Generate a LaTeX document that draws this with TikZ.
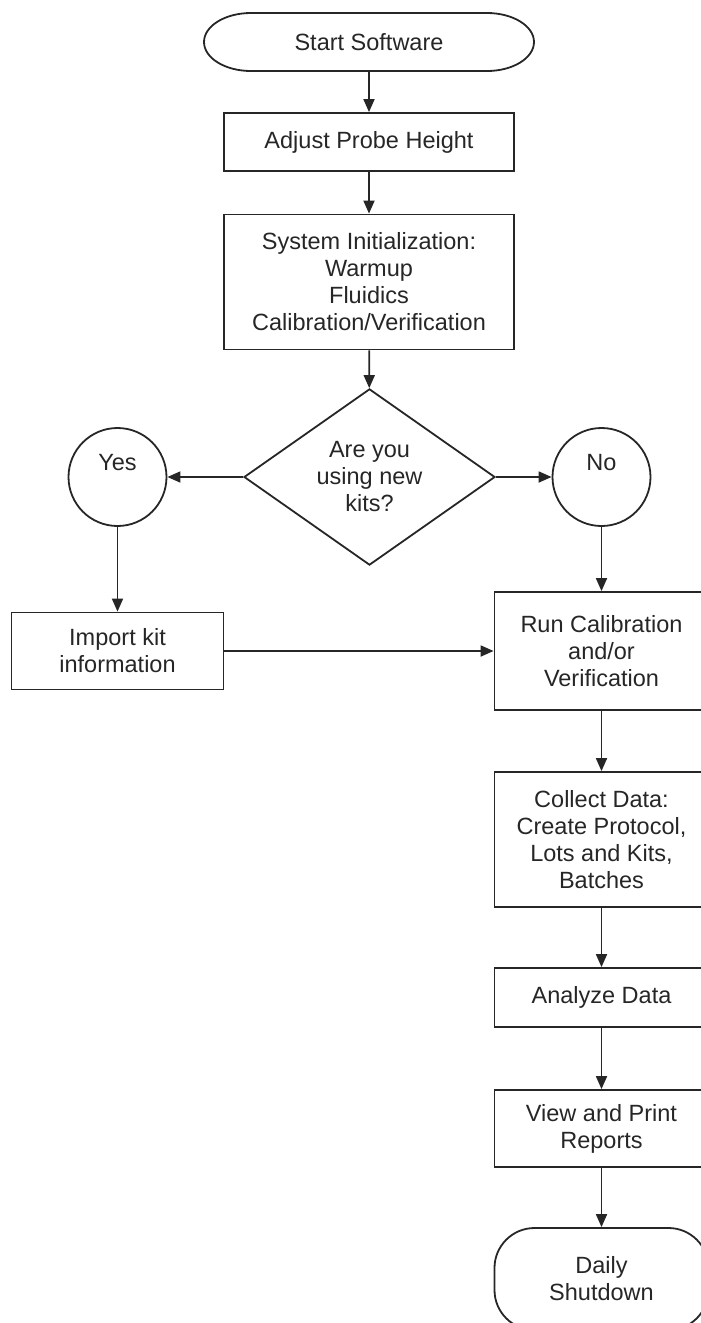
\documentclass[tikz,border=0pt]{standalone}
\usepackage{fontspec}
\setmainfont{Liberation Sans}
\usetikzlibrary{arrows.meta,shapes.geometric,calc}

\tikzset{
  box/.style={draw, rectangle, align=center, inner sep=2pt},
  decision/.style={draw, diamond, align=center, inner sep=0pt,
    minimum width=125.5pt, minimum height=83.5pt},
  answer/.style={draw, circle, minimum size=49pt, inner sep=0pt},
}

\begin{document}
\begin{tikzpicture}[x=0.5pt, y=-0.5pt, line width=0.9pt, black!85,
  >={Triangle[length=6.5pt,width=5.5pt]},
  font=\fontsize{11.75}{13.5}\selectfont]
  \useasboundingbox (0,0) rectangle (701,1323);

  % Start (pill with elliptic ends)
  \node[minimum width=165pt, minimum height=29pt, outer sep=0pt] (start) at (369,42) {Start Software};
  \draw ([xshift=23.5pt]start.north west) -- ([xshift=-23.5pt]start.north east)
    arc[start angle=90, end angle=-90, x radius=23.5pt, y radius=14.5pt]
    -- ([xshift=23.5pt]start.south west)
    arc[start angle=270, end angle=90, x radius=23.5pt, y radius=14.5pt] -- cycle;

  % Main column
  \node[box, minimum width=145pt, minimum height=29pt] (probe) at (369,142) {Adjust Probe Height};
  \node[box, minimum width=145pt, minimum height=67.5pt] (init) at (369,282)
    {System Initialization:\\Warmup\\Fluidics\\Calibration/Verification};
  \node[decision] (kits) at (369.5,477) {Are you\\using new\\kits?};

  % Answers
  \node[answer] (yes) at (117.5,477) {\raisebox{7pt}[\height][\depth]{Yes}};
  \node[answer] (no) at (601.5,477) {\raisebox{7pt}[\height][\depth]{No}};

  % Left branch
  \node[box, minimum width=106pt, minimum height=38.5pt] (import) at (117.5,651) {Import kit\\information};

  % Right column
  \node[box, minimum width=107pt, minimum height=59pt] (runcal) at (601.5,651)
    {Run Calibration\\and/or\\Verification};
  \node[box, minimum width=107pt, minimum height=67.5pt] (collect) at (601.5,839.5)
    {Collect Data:\\Create Protocol,\\Lots and Kits,\\Batches};
  \node[box, minimum width=107pt, minimum height=29.5pt] (analyze) at (601.5,997.5) {Analyze Data};
  \node[box, minimum width=107pt, minimum height=38.5pt] (report) at (601.5,1128.5) {View and Print\\Reports};
  \node[draw, rounded corners=20pt, align=center, minimum width=107pt, minimum height=51pt] (shutdown)
    at (601.5,1279) {Daily\\Shutdown};

  % Connectors
  \draw[->] (start) -- (probe);
  \draw[->] (probe) -- (init);
  \draw[->] (init) -- (kits);
  \draw[->] (kits) -- (yes);
  \draw[->] (kits) -- (no);
  \draw[->] (yes) -- (import);
  \draw[->] (no) -- (runcal);
  \draw[->] (import.east) -- (import.east -| runcal.west);
  \draw[->] (runcal) -- (collect);
  \draw[->] (collect) -- (analyze);
  \draw[->] (analyze) -- (report);
  \draw[->] (report) -- (shutdown);
\end{tikzpicture}
\end{document}
